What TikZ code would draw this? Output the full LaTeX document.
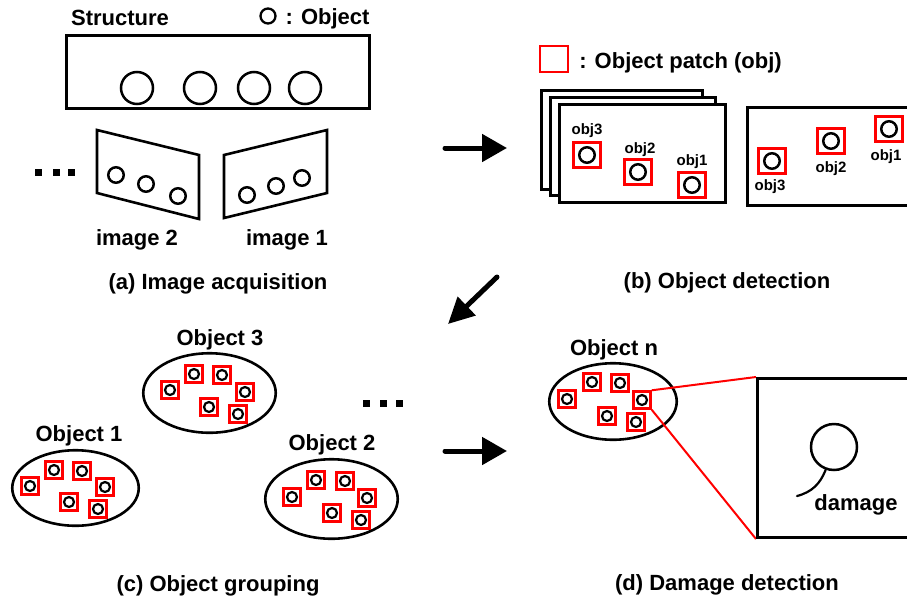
\documentclass[tikz,border=0pt]{standalone}
\usepackage{fontspec}
\setmainfont{Liberation Sans}
\usetikzlibrary{arrows.meta,shapes.geometric}
\newcommand\ptch[3]{\node[patch] (#1) at (#2,#3) {};\node[tinyobj] (#1c) at (#2,#3) {};}
\newcommand\bptch[3]{\node[bigpatch] (#1) at (#2,#3) {};\node[midobj] (#1c) at (#2,#3) {};}
\begin{document}
\begin{tikzpicture}[x=1pt,y=-1pt,
  lbl/.style={font=\bfseries\fontsize{22}{26}\selectfont, inner sep=0pt, yshift=-2.5pt},
  small/.style={font=\bfseries\fontsize{15}{18}\selectfont, inner sep=0pt, yshift=-1.5pt},
  frame/.style={draw, line width=2.6pt, fill=white},
  obj/.style={draw, circle, line width=2.5pt, inner sep=0pt},
  bigobj/.style={obj, minimum size=32pt},
  midobj/.style={obj, minimum size=15.5pt},
  tinyobj/.style={obj, minimum size=10pt, line width=2.2pt},
  patch/.style={draw=red, line width=2.4pt, minimum width=17pt, minimum height=17pt, inner sep=0pt},
  bigpatch/.style={draw=red, line width=2.6pt, minimum width=27.5pt, minimum height=24.5pt, inner sep=0pt},
  grp/.style={draw, ellipse, line width=2.6pt, inner sep=0pt},
  dotsq/.style={fill, minimum size=7pt, inner sep=0pt},
  flow/.style={line width=5pt, line cap=round, -{Triangle[length=25pt,width=27pt]}}
]
\useasboundingbox (0,0) rectangle (907,600);

% ---------- (a) ----------
\node[lbl] (structure) at (120,15.5) {Structure};
\node[obj, minimum size=15pt, line width=2.3pt] (legobj) at (268,16) {};
\node[lbl] (legobjt) at (327.5,16) {: Object};
\draw[line width=2.7pt] (66.3,35.3) rectangle (369.7,108.7);
\node[bigobj] (s1) at (137,88) {};
\node[bigobj] (s2) at (200,88) {};
\node[bigobj] (s3) at (254,88) {};
\node[bigobj] (s4) at (305,88) {};
\draw[line width=2.6pt, line join=miter] (97,130) -- (199,155) -- (199,219) -- (97,193) -- cycle;
\draw[line width=2.6pt, line join=miter] (224,155) -- (327,130) -- (327,193) -- (224,218) -- cycle;
\node[midobj] (i2a) at (116,175) {};
\node[midobj] (i2b) at (146,184) {};
\node[midobj] (i2c) at (178,196) {};
\node[midobj] (i1a) at (247,195) {};
\node[midobj] (i1b) at (276,186) {};
\node[midobj] (i1c) at (302,178) {};
\node[dotsq] (ad1) at (38.5,172.5) {};
\node[dotsq] (ad2) at (56,172.5) {};
\node[dotsq] (ad3) at (71.5,172.5) {};
\node[lbl] (img2) at (137,237) {image 2};
\node[lbl] (img1) at (287,237) {image 1};
\node[lbl] (capa) at (218,281) {(a) Image acquisition};

% ---------- arrows ----------
\coordinate (ab1) at (445,148);
\coordinate (ab2) at (507,148);
\draw[flow] (ab1) -- (ab2);
\coordinate (bc1) at (497,277);
\coordinate (bc2) at (448,324);
\draw[flow, -{Triangle[length=26pt,width=25pt]}] (bc1) -- (bc2);
\coordinate (cd1) at (445,451);
\coordinate (cd2) at (507,451);
\draw[flow] (cd1) -- (cd2);

% ---------- (b) ----------
\node[draw=red, line width=2.6pt, minimum width=28pt, minimum height=26pt, inner sep=0pt] (legp) at (554,59) {};
\node[lbl] (legpt) at (680.5,60) {: Object patch (obj)};
\draw[frame] (541.3,90.3) rectangle (702.7,189.7);
\draw[frame] (550.3,97.3) rectangle (715.7,195.7);
\draw[frame] (559.3,104.3) rectangle (725.7,202.7);
\bptch{f3}{587}{155}
\bptch{f2}{638}{172}
\bptch{f1}{692}{185}
\node[small] (f3t) at (587,129) {obj3};
\node[small] (f2t) at (640,148) {obj2};
\node[small] (f1t) at (692,160) {obj1};
\draw[line width=2.6pt] (908,107.3) -- (747.3,107.3) -- (747.3,205.7) -- (908,205.7);
\bptch{r3}{772}{161}
\bptch{r2}{831}{141}
\bptch{r1}{889}{129}
\node[small] (r3t) at (770,185) {obj3};
\node[small] (r2t) at (831,167) {obj2};
\node[small] (r1t) at (886,155) {obj1};
\node[lbl] (capb) at (727,280) {(b) Object detection};

% ---------- (c) ----------
\node[lbl] (o3t) at (220,337) {Object 3};
\node[grp, minimum width=132.5pt, minimum height=79.5pt] (e3) at (209.5,393) {};
\ptch{a1}{170}{390}
\ptch{a2}{194}{374}
\ptch{a3}{222}{375}
\ptch{a4}{245}{392}
\ptch{a5}{209}{407}
\ptch{a6}{238}{414}
\node[lbl] (o1t) at (79,433) {Object 1};
\node[grp, minimum width=126.5pt, minimum height=75.5pt] (e1) at (75.5,488) {};
\ptch{b1}{30}{486}
\ptch{b2}{54}{470}
\ptch{b3}{82}{471}
\ptch{b4}{105}{487}
\ptch{b5}{69}{502}
\ptch{b6}{98}{509}
\node[lbl] (o2t) at (332,442) {Object 2};
\node[grp, minimum width=132.5pt, minimum height=79.5pt] (e2) at (331.5,499) {};
\ptch{c1}{292}{497}
\ptch{c2}{316}{480}
\ptch{c3}{345}{481}
\ptch{c4}{367}{498}
\ptch{c5}{332}{513}
\ptch{c6}{361}{520}
\node[dotsq] (cd1s) at (366.5,403.5) {};
\node[dotsq] (cd2s) at (383,403.5) {};
\node[dotsq] (cd3s) at (399.5,403.5) {};
\node[lbl] (capc) at (218,583) {(c) Object grouping};

% ---------- (d) ----------
\node[lbl] (ont) at (614,347) {Object n};
\node[grp, minimum width=127.5pt, minimum height=76.5pt] (en) at (613,401.5) {};
\ptch{n1}{567}{399}
\ptch{n2}{592}{382}
\ptch{n3}{620}{383}
\ptch{n4}{642}{400}
\ptch{n5}{607}{416}
\ptch{n6}{636}{422}
\coordinate (dtl) at (756,377);
\coordinate (dbl) at (756,539);
\draw[red, line width=2pt] (n4.north east) -- (dtl);
\draw[red, line width=2pt] (n4.south east) -- (dbl);
\draw[line width=2.7pt] (908,378.3) -- (757.3,378.3) -- (757.3,537.7) -- (908,537.7);
\node[obj, minimum size=46pt, line width=2.5pt] (dmg) at (834,447) {};
\coordinate (dtail) at (797,496);
\draw[line width=2.2pt, line cap=round] (dmg.250) .. controls (820,484) and (812,492) .. (dtail);
\node[lbl] (dmgt) at (856,502) {damage};
\node[lbl] (capd) at (727,582.5) {(d) Damage detection};
\end{tikzpicture}
\end{document}
